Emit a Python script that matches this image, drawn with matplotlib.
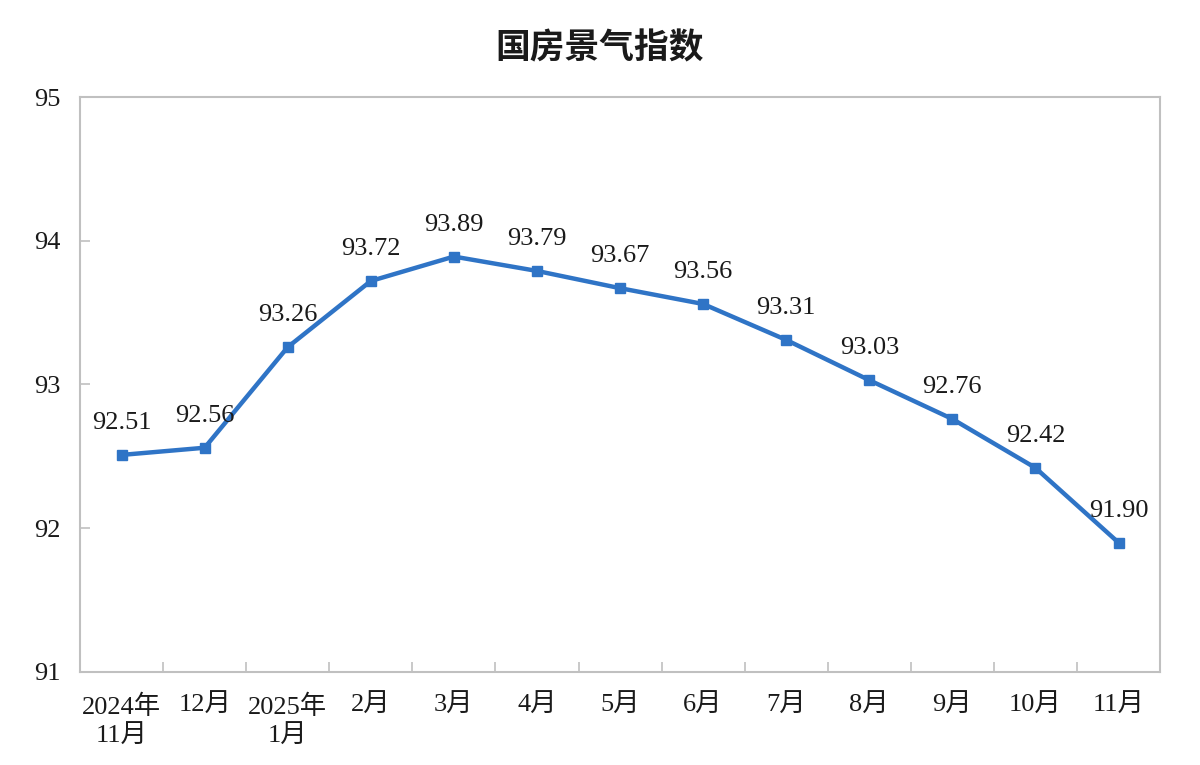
import matplotlib
matplotlib.use('Agg')
import matplotlib.pyplot as plt

months = ['2024年\n11月', '12月', '2025年\n1月', '2月', '3月', '4月', '5月',
          '6月', '7月', '8月', '9月', '10月', '11月']
index_values = [92.51, 92.56, 93.26, 93.72, 93.89, 93.79, 93.67,
                93.56, 93.31, 93.03, 92.76, 92.42, 91.90]
y_ticks = [91, 92, 93, 94, 95]

plt.rcParams['font.family'] = ['Liberation Serif', 'Noto Sans CJK SC']
line_color = '#2f74c6'
frame_color = '#c0c0c0'
txt_color = '#1a1a1a'

fig = plt.figure(figsize=(12, 7.65), dpi=100)
ax = fig.add_axes([0.0667, 0.1216, 0.9, 0.7516])

x = list(range(len(months)))
ax.plot(x, index_values, color=line_color, linewidth=3.2, marker='s',
        markersize=6.5, zorder=3)
for xi, v in zip(x, index_values):
    ax.annotate('%.2f' % v, (xi, v), xytext=(0, 15), textcoords='offset points',
                ha='center', va='bottom', fontsize=19, color=txt_color)

ax.set_xlim(-0.5, len(months) - 0.5)
ax.set_ylim(91, 95)
ax.set_yticks(y_ticks)
ax.set_yticklabels([str(t) for t in y_ticks], fontsize=19, color=txt_color)
ax.set_xticks(x)
ax.set_xticklabels(months, fontsize=19, color=txt_color, linespacing=1.35)
ax.tick_params(axis='x', which='major', length=0, pad=16)
ax.set_xticks([i + 0.5 for i in x[:-1]], minor=True)
ax.tick_params(axis='x', which='minor', direction='in', length=7,
               color=frame_color, width=1.2)
ax.tick_params(axis='y', direction='in', length=7, color=frame_color,
               width=1.2, pad=14)

for s in ax.spines.values():
    s.set_color(frame_color)
    s.set_linewidth(1.5)

fig.text(0.5, 0.937, '国房景气指数', ha='center', va='center', fontsize=25,
         fontweight='bold', family=['Noto Sans CJK SC'], color=txt_color)

fig.savefig('out.png', dpi=100)
